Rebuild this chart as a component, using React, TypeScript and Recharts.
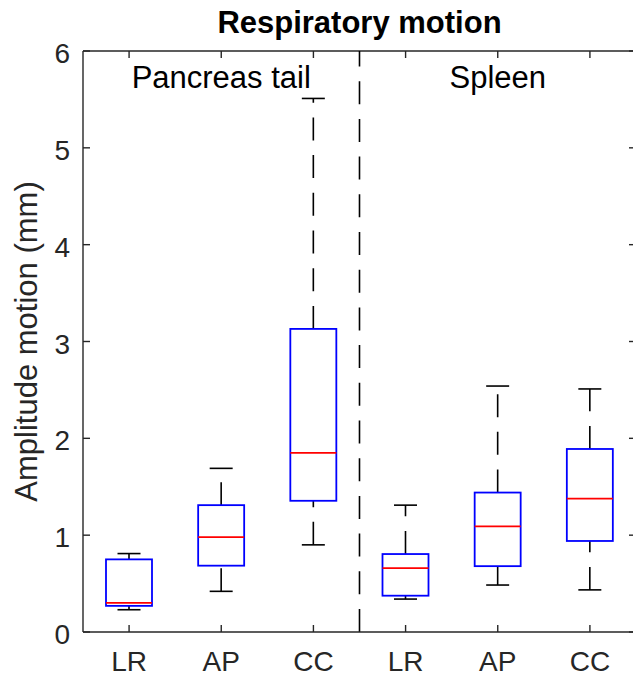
import React from 'react';
import { ComposedChart, Bar, XAxis, YAxis, ReferenceLine, ReferenceDot } from 'recharts';

// one box per organ / direction, in plot order
const categories = ['LR', 'AP', 'CC', 'LR', 'AP', 'CC'];
const positions = [1, 2, 3, 4, 5, 6];
const whiskerLow = [0.23, 0.42, 0.9, 0.34, 0.485, 0.435];
const quartile1 = [0.27, 0.685, 1.355, 0.375, 0.68, 0.94];
const medians = [0.3, 0.98, 1.85, 0.66, 1.09, 1.377];
const quartile3 = [0.75, 1.31, 3.13, 0.805, 1.44, 1.89];
const whiskerHigh = [0.81, 1.69, 5.51, 1.31, 2.54, 2.51];

const yTicks = [0, 1, 2, 3, 4, 5, 6];
const groupNames = ['Pancreas tail', 'Spleen'];
const groupCenters = [2, 5];
const groupLabelY = 5.615;
const groupDivider = 3.5;

const data = positions.map((pos, i) => ({
  pos,
  label: categories[i],
  lo: whiskerLow[i],
  q1: quartile1[i],
  med: medians[i],
  q3: quartile3[i],
  hi: whiskerHigh[i],
}));

const FONT = '"Liberation Sans", Arial, Helvetica, sans-serif';
const AXIS = '#262626';
const DASH = '23 14.7';
// plot box edges (from the chart margins), used for the mirrored inward ticks
const PLOT_TOP = 51;
const PLOT_RIGHT = 636;

const BoxShape = (props: any) => {
  const { x, y, width, height, payload } = props;
  const top = height >= 0 ? y : y + height;
  const h = Math.abs(height);
  const span = payload.hi - payload.lo;
  const toY = (v: number) => top + (h * (payload.hi - v)) / span;
  const cx = x + width / 2;
  const cap = width / 2;
  const yLo = toY(payload.lo);
  const yHi = toY(payload.hi);
  const yQ1 = toY(payload.q1);
  const yQ3 = toY(payload.q3);
  const yMed = toY(payload.med);
  return (
    <g>
      <path d={`M${cx},${yQ3}L${cx},${yHi}`} stroke="#000" strokeWidth={1.6} strokeDasharray={DASH} fill="none" />
      <path d={`M${cx},${yLo}L${cx},${yQ1}`} stroke="#000" strokeWidth={1.6} strokeDasharray={DASH} fill="none" />
      <line x1={cx - cap / 2} x2={cx + cap / 2} y1={yHi} y2={yHi} stroke="#000" strokeWidth={1.6} />
      <line x1={cx - cap / 2} x2={cx + cap / 2} y1={yLo} y2={yLo} stroke="#000" strokeWidth={1.6} />
      <rect x={x} y={yQ3} width={width} height={yQ1 - yQ3} fill="none" stroke="#0000ff" strokeWidth={1.8} />
      <line x1={x} x2={x + width} y1={yMed} y2={yMed} stroke="#ff0000" strokeWidth={1.8} />
    </g>
  );
};

const LeftTick = ({ x, y, payload }: any) => (
  <g>
    <line x1={x} x2={x + 7} y1={y} y2={y} stroke={AXIS} strokeWidth={1.4} />
    <line x1={PLOT_RIGHT - 7} x2={PLOT_RIGHT} y1={y} y2={y} stroke={AXIS} strokeWidth={1.4} />
    <text x={x - 13} y={y + 12} textAnchor="end" fontSize={28} fontFamily={FONT} fill={AXIS}>
      {payload.value}
    </text>
  </g>
);

const BottomTick = ({ x, y, payload }: any) => (
  <g>
    <line x1={x} x2={x} y1={y} y2={y - 7} stroke={AXIS} strokeWidth={1.4} />
    <line x1={x} x2={x} y1={PLOT_TOP} y2={PLOT_TOP + 7} stroke={AXIS} strokeWidth={1.4} />
    <text x={x} y={y + 39} textAnchor="middle" fontSize={28} fontFamily={FONT} fill={AXIS}>
      {categories[payload.value - 1]}
    </text>
  </g>
);

const Title = ({ viewBox }: any) => (
  <text x={viewBox.x + viewBox.width / 2} y={viewBox.y - 18} textAnchor="middle" fontSize={31} fontWeight="bold" fontFamily={FONT} fill="#000">
    Respiratory motion
  </text>
);

const YLabel = ({ viewBox }: any) => {
  const cy = viewBox.y + viewBox.height / 2;
  return (
    <text x={37} y={cy} transform={`rotate(-90, 37, ${cy})`} textAnchor="middle" fontSize={31} fontFamily={FONT} fill={AXIS}>
      Amplitude motion (mm)
    </text>
  );
};

const Divider = ({ x1, y1, x2, y2 }: any) => {
  const yb = Math.max(y1, y2);
  const yt = Math.min(y1, y2);
  return <path d={`M${x1},${yb}L${x2},${yt}`} stroke="#000" strokeWidth={1.6} strokeDasharray={DASH} />;
};

const GroupLabel = (name: string) => ({ viewBox }: any) => (
  <text x={viewBox.x + (viewBox.width || 0) / 2} y={viewBox.y + (viewBox.height || 0) / 2} textAnchor="middle" fontSize={31} fontFamily={FONT} fill="#000">
    {name}
  </text>
);

export default function App() {
  return (
    <div style={{ position: 'fixed', top: 0, left: 0, width: 633, height: 677, overflow: 'hidden', background: '#fff' }}>
      <ComposedChart width={640} height={677} data={data} margin={{ top: PLOT_TOP, right: 640 - PLOT_RIGHT, bottom: 0, left: 0 }}>
        <XAxis
          dataKey="pos"
          type="number"
          domain={[0.5, 6.5]}
          ticks={positions}
          allowDataOverflow
          height={45}
          tickSize={0}
          tickMargin={0}
          tickLine={false}
          axisLine={{ stroke: AXIS, strokeWidth: 1.4 }}
          tick={<BottomTick />}
          interval={0}
        />
        <YAxis
          type="number"
          domain={[0, 6]}
          ticks={yTicks}
          allowDataOverflow
          width={83}
          tickSize={0}
          tickMargin={0}
          tickLine={false}
          axisLine={{ stroke: AXIS, strokeWidth: 1.4 }}
          tick={<LeftTick />}
          interval={0}
          label={<YLabel />}
        />
        <ReferenceLine y={6} stroke={AXIS} strokeWidth={1.4} label={<Title />} />
        <ReferenceLine x={6.5} stroke={AXIS} strokeWidth={1.4} />
        <ReferenceLine x={groupDivider} stroke="#000" shape={<Divider />} />
        {groupNames.map((name, i) => (
          <ReferenceDot key={name} x={groupCenters[i]} y={groupLabelY} r={0} fill="none" stroke="none" label={GroupLabel(name)} />
        ))}
        <Bar
          dataKey={(d: any) => [d.lo, d.hi]}
          barSize={46}
          shape={<BoxShape />}
          isAnimationActive={false}
        />
      </ComposedChart>
    </div>
  );
}
